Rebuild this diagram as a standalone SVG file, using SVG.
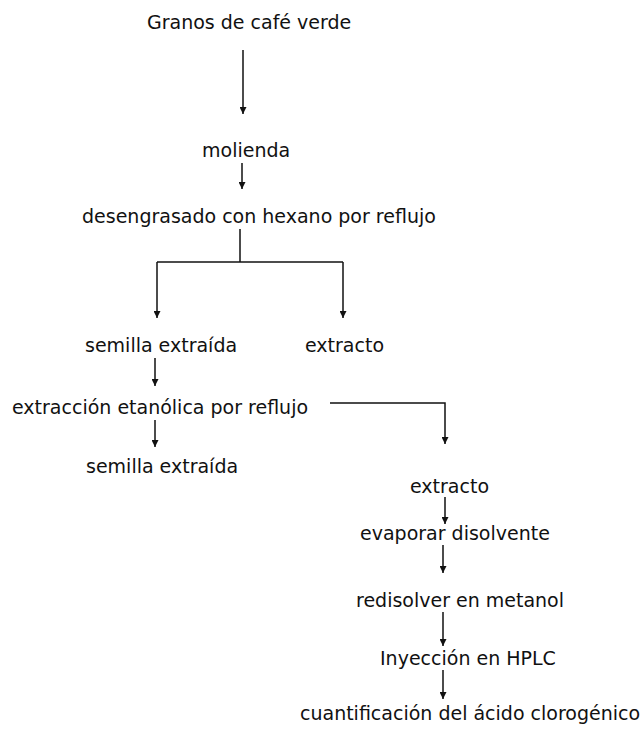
<svg xmlns="http://www.w3.org/2000/svg" width="643" height="737" viewBox="0 0 643 737">
<style>
text{font-family:"DejaVu Sans","Liberation Sans",sans-serif;font-size:19px;fill:#111}
.c{stroke:#111;stroke-width:1.5;fill:none}
</style>
<defs>
<marker id="ah" viewBox="0 0 10 10" refX="10" refY="5" markerWidth="9" markerHeight="7" markerUnits="userSpaceOnUse" orient="auto">
<path d="M0 0 L10 5 L0 10 Z" fill="#111"/>
</marker>
</defs>
<rect width="643" height="737" fill="#fff"/>
<g id="connectors">
<path class="c" d="M243 50 V114" marker-end="url(#ah)"/>
<path class="c" d="M242 163 V189" marker-end="url(#ah)"/>
<path class="c" d="M240 229 V262"/>
<path class="c" d="M157 262 H343"/>
<path class="c" d="M157 262 V318" marker-end="url(#ah)"/>
<path class="c" d="M343 262 V318" marker-end="url(#ah)"/>
<path class="c" d="M155 358 V386" marker-end="url(#ah)"/>
<path class="c" d="M330 403 H445 V444" marker-end="url(#ah)"/>
<path class="c" d="M155 420 V447" marker-end="url(#ah)"/>
<path class="c" d="M445 497 V524" marker-end="url(#ah)"/>
<path class="c" d="M443 545 V573" marker-end="url(#ah)"/>
<path class="c" d="M443 612 V646" marker-end="url(#ah)"/>
<path class="c" d="M443 670 V699" marker-end="url(#ah)"/>
</g>
<g id="n1"><text x="147" y="29">Granos de café verde</text></g>
<g id="n2"><text x="202" y="157">molienda</text></g>
<g id="n3"><text x="82" y="223">desengrasado con hexano por reflujo</text></g>
<g id="n4"><text x="85" y="352">semilla extraída</text></g>
<g id="n5"><text x="305" y="352">extracto</text></g>
<g id="n6"><text x="12" y="414">extracción etanólica por reflujo</text></g>
<g id="n7"><text x="86" y="473">semilla extraída</text></g>
<g id="n8"><text x="410" y="493">extracto</text></g>
<g id="n9"><text x="360" y="540">evaporar disolvente</text></g>
<g id="n10"><text x="356" y="607">redisolver en metanol</text></g>
<g id="n11"><text x="380" y="665">Inyección en HPLC</text></g>
<g id="n12"><text x="300" y="720">cuantificación del ácido clorogénico</text></g>
</svg>
